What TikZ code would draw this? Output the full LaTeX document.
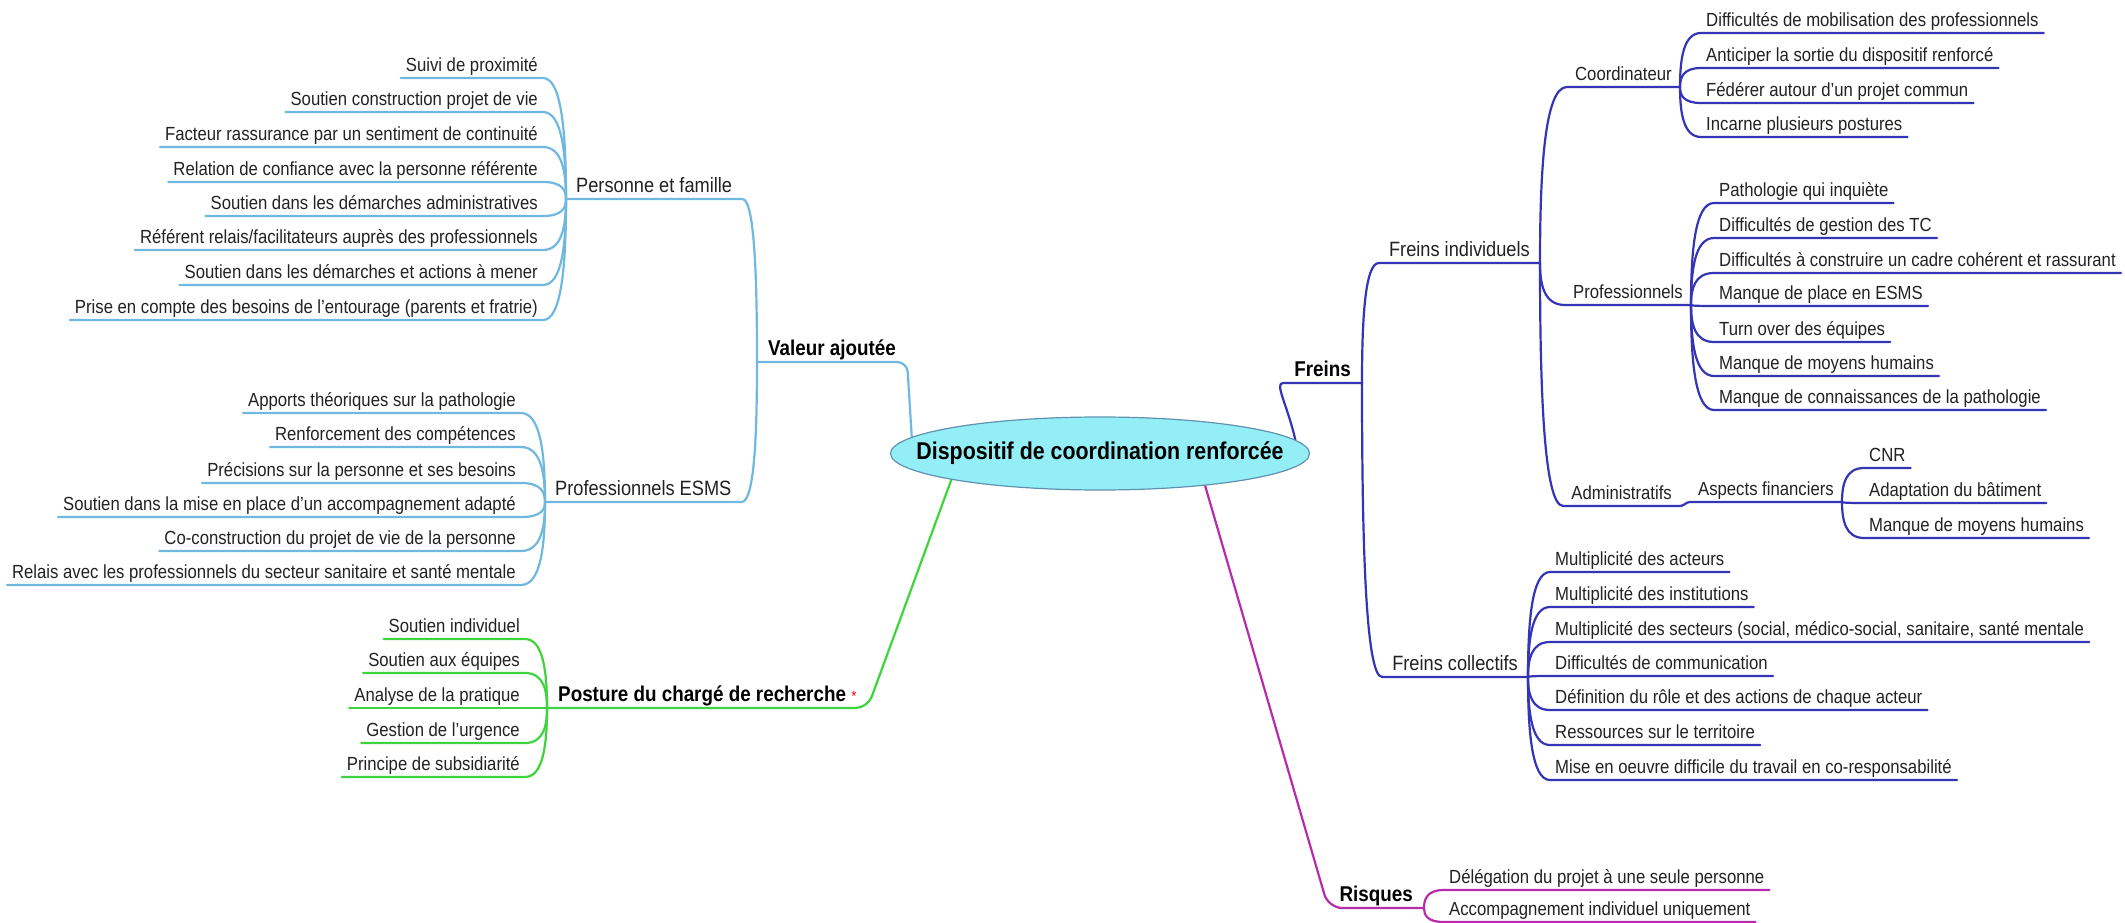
\documentclass[tikz,border=0pt]{standalone}
\usepackage{fontspec}
\setmainfont{Liberation Sans}[FakeStretch=0.88]
\usetikzlibrary{calc,shapes.geometric,backgrounds}

\definecolor{valc}{RGB}{112,184,224}
\definecolor{postc}{RGB}{62,212,62}
\definecolor{frc}{RGB}{52,52,182}
\definecolor{rqc}{RGB}{182,44,172}
\definecolor{rootfill}{RGB}{148,238,246}
\definecolor{rootline}{RGB}{96,146,176}
\definecolor{txt}{RGB}{34,34,34}

\tikzset{
  % curved branch: leaves the underline horizontally, enters the junction vertically
  mm/.style={to path={.. controls ($(\tikztostart)!0.85!(\tikztostart -| \tikztotarget)$)
      and ($(\tikztotarget)!0.5!(\tikztostart -| \tikztotarget)$) .. (\tikztotarget)}},
  leaf/.style={inner xsep=5pt, inner ysep=2pt, text=txt,
      font=\fontsize{19}{21}\selectfont, text height=13.7pt, text depth=4pt},
  sub/.style={leaf, inner xsep=8pt},
  grp/.style={inner xsep=10pt, inner ysep=2pt, text=txt,
      font=\fontsize{20.7}{23}\selectfont, text height=14.9pt, text depth=4.3pt},
  bold/.style={inner xsep=11pt, inner ysep=2pt, text=black,
      font=\fontsize{21.4}{24}\selectfont\bfseries, text height=15.4pt, text depth=4.5pt},
  rootnode/.style={ellipse, minimum width=419pt, minimum height=73pt, inner sep=0pt,
      fill=rootfill, draw=rootline, line width=1.2pt, text=black,
      font=\fontsize{24.3}{27}\selectfont\bfseries},
  lnk/.style={line width=2.2pt, line cap=round, line join=round},
}

\begin{document}
\begin{tikzpicture}[x=1pt, y=-1pt]
\useasboundingbox (0,0) rectangle (2125,923);

% ---------- centre ----------
\node[rootnode] (root) at (1100,453.5) {\makebox[0pt]{Dispositif de coordination renforcée}};

% ---------- Valeur ajoutée ----------
\node[bold, anchor=south west] (val) at (757,362) {Valeur ajoutée};
\node[grp, anchor=south west] (pf) at (566,199) {Personne et famille};
\node[grp, anchor=south west] (es) at (545,502) {Professionnels ESMS};

\node[leaf, anchor=south east] (pf1) at (543,78)  {Suivi de proximité};
\node[leaf, anchor=south east] (pf2) at (543,112) {Soutien construction projet de vie};
\node[leaf, anchor=south east] (pf3) at (543,147) {Facteur rassurance par un sentiment de continuité};
\node[leaf, anchor=south east] (pf4) at (543,182) {Relation de confiance avec la personne référente};
\node[leaf, anchor=south east] (pf5) at (543,216) {Soutien dans les démarches administratives};
\node[leaf, anchor=south east] (pf6) at (543,250) {Référent relais/facilitateurs auprès des professionnels};
\node[leaf, anchor=south east] (pf7) at (543,285) {Soutien dans les démarches et actions à mener};
\node[leaf, anchor=south east] (pf8) at (543,320) {Prise en compte des besoins de l'entourage (parents et fratrie)};

\node[leaf, anchor=south east] (es1) at (521,413) {Apports théoriques sur la pathologie};
\node[leaf, anchor=south east] (es2) at (521,447) {Renforcement des compétences};
\node[leaf, anchor=south east] (es3) at (521,483) {Précisions sur la personne et ses besoins};
\node[leaf, anchor=south east] (es4) at (521,517) {Soutien dans la mise en place d'un accompagnement adapté};
\node[leaf, anchor=south east] (es5) at (521,551) {Co-construction du projet de vie de la personne};
\node[leaf, anchor=south east] (es6) at (521,585) {Relais avec les professionnels du secteur sanitaire et santé mentale};

% ---------- Posture ----------
\node[bold, anchor=south west] (po) at (547,708)
  {Posture du chargé de recherche \textcolor{red}{\mdseries\fontsize{15}{15}\selectfont *}};
\node[leaf, anchor=south east] (po1) at (525,639) {Soutien individuel};
\node[leaf, anchor=south east] (po2) at (525,673) {Soutien aux équipes};
\node[leaf, anchor=south east] (po3) at (525,708) {Analyse de la pratique};
\node[leaf, anchor=south east] (po4) at (525,743) {Gestion de l'urgence};
\node[leaf, anchor=south east] (po5) at (525,777) {Principe de subsidiarité};

% ---------- Freins ----------
\node[bold, anchor=south east] (fr) at (1362,383) {Freins};
\node[grp, anchor=south east] (fi) at (1540,263) {Freins individuels};
\node[grp, anchor=south east] (fc) at (1528,677) {Freins collectifs};
\node[sub, anchor=south east] (co) at (1680,87)  {Coordinateur};
\node[sub, anchor=south east] (pr) at (1691,305) {Professionnels};
\node[sub, anchor=south east] (ad) at (1680,506) {Administratifs};
\node[sub, anchor=south east] (as) at (1842,502) {Aspects financiers};

\node[leaf, anchor=south west] (co1) at (1701,33)  {Difficultés de mobilisation des professionnels};
\node[leaf, anchor=south west] (co2) at (1701,68)  {Anticiper la sortie du dispositif renforcé};
\node[leaf, anchor=south west] (co3) at (1701,103) {Fédérer autour d'un projet commun};
\node[leaf, anchor=south west] (co4) at (1701,137) {Incarne plusieurs postures};

\node[leaf, anchor=south west] (pr1) at (1714,203) {Pathologie qui inquiète};
\node[leaf, anchor=south west] (pr2) at (1714,238) {Difficultés de gestion des TC};
\node[leaf, anchor=south west] (pr3) at (1714,273) {Difficultés à construire un cadre cohérent et rassurant};
\node[leaf, anchor=south west] (pr4) at (1714,306) {Manque de place en ESMS};
\node[leaf, anchor=south west] (pr5) at (1714,342) {Turn over des équipes};
\node[leaf, anchor=south west] (pr6) at (1714,376) {Manque de moyens humains};
\node[leaf, anchor=south west] (pr7) at (1714,410) {Manque de connaissances de la pathologie};

\node[leaf, anchor=south west] (as1) at (1864,468) {CNR};
\node[leaf, anchor=south west] (as2) at (1864,503) {Adaptation du bâtiment};
\node[leaf, anchor=south west] (as3) at (1864,538) {Manque de moyens humains};

\node[leaf, anchor=south west] (fc1) at (1550,572) {Multiplicité des acteurs};
\node[leaf, anchor=south west] (fc2) at (1550,607) {Multiplicité des institutions};
\node[leaf, anchor=south west] (fc3) at (1550,642) {Multiplicité des secteurs (social, médico-social, sanitaire, santé mentale};
\node[leaf, anchor=south west] (fc4) at (1550,676) {Difficultés de communication};
\node[leaf, anchor=south west] (fc5) at (1550,710) {Définition du rôle et des actions de chaque acteur};
\node[leaf, anchor=south west] (fc6) at (1550,745) {Ressources sur le territoire};
\node[leaf, anchor=south west] (fc7) at (1550,780) {Mise en oeuvre difficile du travail en co-responsabilité};

% ---------- Risques ----------
\node[bold, anchor=south east] (rq) at (1424,908) {Risques};
\node[leaf, anchor=south west] (rq1) at (1444,890) {Délégation du projet à une seule personne};
\node[leaf, anchor=south west] (rq2) at (1444,922) {Accompagnement individuel uniquement};

% ---------- branches ----------
\begin{pgfonlayer}{background}
\fill[white] (0,0) rectangle (2125,923);

% left side: underline, then curve into the parent junction
\foreach \n in {pf1,pf2,pf3,pf4,pf5,pf6,pf7,pf8}
  \draw[lnk, valc] (\n.south west) -- (\n.south east) to[mm] (pf.south west);
\foreach \n in {es1,es2,es3,es4,es5,es6}
  \draw[lnk, valc] (\n.south west) -- (\n.south east) to[mm] (es.south west);
\draw[lnk, valc] (pf.south west) -- (pf.south east) to[mm] (val.south west);
\draw[lnk, valc] (es.south west) -- (es.south east) to[mm] (val.south west);
\draw[lnk, valc, rounded corners=10pt] (val.south west) -- (val.south east) -- (root.175);

\foreach \n in {po1,po2,po3,po4,po5}
  \draw[lnk, postc] (\n.south west) -- (\n.south east) to[mm] (po.south west);
\draw[lnk, postc, rounded corners=12pt] (po.south west) -- (po.south east) -- (root.190);

% right side
\foreach \n in {co1,co2,co3,co4}
  \draw[lnk, frc] (\n.south east) -- (\n.south west) to[mm] (co.south east);
\foreach \n in {pr1,pr2,pr3,pr4,pr5,pr6,pr7}
  \draw[lnk, frc] (\n.south east) -- (\n.south west) to[mm] (pr.south east);
\foreach \n in {as1,as2,as3}
  \draw[lnk, frc] (\n.south east) -- (\n.south west) to[mm] (as.south east);
\draw[lnk, frc] (as.south east) -- (as.south west) to[out=180, in=0] (ad.south east);
\foreach \n in {co,pr,ad}
  \draw[lnk, frc] (\n.south east) -- (\n.south west) to[mm] (fi.south east);
\foreach \n in {fc1,fc2,fc3,fc4,fc5,fc6,fc7}
  \draw[lnk, frc] (\n.south east) -- (\n.south west) to[mm] (fc.south east);
\draw[lnk, frc] (fi.south east) -- (fi.south west) to[mm] (fr.south east);
\draw[lnk, frc] (fc.south east) -- (fc.south west) to[mm] (fr.south east);
\draw[lnk, frc] (fr.south east) -- (fr.south west) .. controls +(-9,0) and +(-8,-35) .. (root.4);

\foreach \n in {rq1,rq2}
  \draw[lnk, rqc] (\n.south east) -- (\n.south west) to[mm] (rq.south east);
\draw[lnk, rqc, rounded corners=14pt] (rq.south east) -- (rq.south west) -- (root.343);
\end{pgfonlayer}
\end{tikzpicture}
\end{document}
